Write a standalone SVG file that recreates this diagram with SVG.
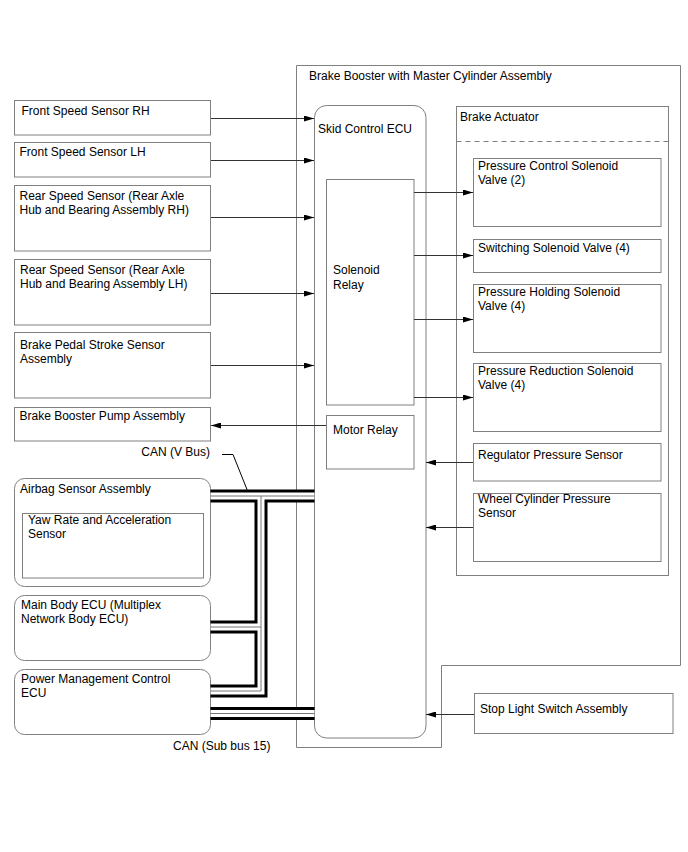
<svg xmlns="http://www.w3.org/2000/svg" width="688" height="852" viewBox="0 0 688 852">
<defs>
<marker id="ah" viewBox="0 0 10 6" refX="10" refY="3" markerWidth="10" markerHeight="6" markerUnits="userSpaceOnUse" orient="auto">
<path d="M0,0 L10,3 L0,6 Z" fill="#000"/>
</marker>
</defs>
<style>
text{font-family:"Liberation Sans",Arial,sans-serif;font-size:12px;fill:#000}
.box{fill:#fff;stroke:#808080;stroke-width:1}
.frame{fill:none;stroke:#808080;stroke-width:1}
.arr{fill:none;stroke:#333;stroke-width:1;marker-end:url(#ah)}
.lead{fill:none;stroke:#000;stroke-width:1}
.b1{fill:none;stroke:#000;stroke-width:13;stroke-linejoin:miter}
.b2{fill:none;stroke:#fff;stroke-width:7;stroke-linejoin:miter}
.b3{fill:none;stroke:#777;stroke-width:1;stroke-linejoin:miter}
</style>
<rect width="688" height="852" fill="#fff"/>

<g id="brake-booster">
<path class="frame" d="M296.5,65.5 H680.5 V665.5 H441.5 V747.5 H296.5 Z"/>
<text x="309" y="80">Brake Booster with Master Cylinder Assembly</text>
</g>

<g id="skid-control-ecu">
<rect class="box" x="314.5" y="105.5" width="111.5" height="632.5" rx="12"/>
<text x="318" y="132.5">Skid Control ECU</text>
</g>
<g id="solenoid-relay">
<rect class="box" x="326.5" y="179.5" width="87.5" height="225.5"/>
<text x="333" y="274">Solenoid</text>
<text x="333" y="289">Relay</text>
</g>
<g id="motor-relay">
<rect class="box" x="326.5" y="415.5" width="87.5" height="53.5"/>
<text x="333" y="434">Motor Relay</text>
</g>

<g id="brake-actuator">
<rect class="box" x="456.5" y="106.5" width="212" height="469"/>
<line x1="456.5" y1="141.5" x2="668.5" y2="141.5" stroke="#808080" stroke-width="1" stroke-dasharray="5,4"/>
<text x="460" y="120.5">Brake Actuator</text>
</g>
<g id="pressure-control">
<rect class="box" x="473.5" y="158.5" width="187.5" height="68"/>
<text x="478" y="169.5">Pressure Control Solenoid</text>
<text x="478" y="183.5">Valve (2)</text>
</g>
<g id="switching">
<rect class="box" x="473.5" y="239.5" width="187.5" height="33"/>
<text x="478" y="251.5">Switching Solenoid Valve (4)</text>
</g>
<g id="pressure-holding">
<rect class="box" x="473.5" y="284.5" width="187.5" height="68"/>
<text x="478" y="296">Pressure Holding Solenoid</text>
<text x="478" y="310">Valve (4)</text>
</g>
<g id="pressure-reduction">
<rect class="box" x="473.5" y="363.5" width="187.5" height="68"/>
<text x="478" y="375">Pressure Reduction Solenoid</text>
<text x="478" y="389">Valve (4)</text>
</g>
<g id="regulator-pressure">
<rect class="box" x="473.5" y="443.5" width="187.5" height="37.5"/>
<text x="478" y="459">Regulator Pressure Sensor</text>
</g>
<g id="wheel-cylinder-pressure">
<rect class="box" x="473.5" y="493.5" width="187.5" height="68"/>
<text x="478" y="503">Wheel Cylinder Pressure</text>
<text x="478" y="517">Sensor</text>
</g>

<g id="stop-light-switch">
<rect class="box" x="474.5" y="693.5" width="198.5" height="40"/>
<text x="480" y="713">Stop Light Switch Assembly</text>
</g>

<g id="front-speed-rh">
<rect class="box" x="14.5" y="100.5" width="196" height="34.5"/>
<text x="21.5" y="115">Front Speed Sensor RH</text>
</g>
<g id="front-speed-lh">
<rect class="box" x="14.5" y="142.5" width="196" height="34.5"/>
<text x="19.5" y="155.5">Front Speed Sensor LH</text>
</g>
<g id="rear-speed-rh">
<rect class="box" x="14.5" y="185.5" width="196" height="65.5"/>
<text x="19.5" y="199.5">Rear Speed Sensor (Rear Axle</text>
<text x="19.5" y="213.5">Hub and Bearing Assembly RH)</text>
</g>
<g id="rear-speed-lh">
<rect class="box" x="14.5" y="259.5" width="196" height="65.5"/>
<text x="20" y="273.5">Rear Speed Sensor (Rear Axle</text>
<text x="20" y="287.5">Hub and Bearing Assembly LH)</text>
</g>
<g id="brake-pedal-stroke">
<rect class="box" x="14.5" y="332.5" width="196" height="65.5"/>
<text x="20" y="348.5">Brake Pedal Stroke Sensor</text>
<text x="20" y="362.5">Assembly</text>
</g>
<g id="brake-booster-pump">
<rect class="box" x="14.5" y="407.5" width="196" height="33.5"/>
<text x="19.5" y="420">Brake Booster Pump Assembly</text>
</g>
<g id="airbag-sensor">
<rect class="box" x="14.5" y="478.5" width="196" height="108" rx="10"/>
<text x="20" y="493">Airbag Sensor Assembly</text>
</g>
<g id="yaw-rate-sensor">
<rect class="box" x="22.5" y="513.5" width="181" height="64.5"/>
<text x="28" y="523.5">Yaw Rate and Acceleration</text>
<text x="28" y="537.5">Sensor</text>
</g>
<g id="main-body-ecu">
<rect class="box" x="14.5" y="595.5" width="196" height="65" rx="10"/>
<text x="21" y="608.5">Main Body ECU (Multiplex</text>
<text x="21" y="622.5">Network Body ECU)</text>
</g>
<g id="power-management-ecu">
<rect class="box" x="14.5" y="669.5" width="196" height="65" rx="10"/>
<text x="21" y="682.5">Power Management Control</text>
<text x="21" y="696.5">ECU</text>
</g>

<g id="connectors">
<path class="arr" d="M211,118.5 H314"/>
<path class="arr" d="M211,160.5 H314"/>
<path class="arr" d="M211,217.5 H314"/>
<path class="arr" d="M211,293.5 H314"/>
<path class="arr" d="M211,365.5 H314"/>
<path class="arr" d="M326,425.5 H211"/>
<path class="arr" d="M414,192.5 H473"/>
<path class="arr" d="M414,255.5 H473"/>
<path class="arr" d="M414,319.5 H473"/>
<path class="arr" d="M414,397.5 H473"/>
<path class="arr" d="M473,462.5 H426"/>
<path class="arr" d="M473,527.5 H426"/>
<path class="arr" d="M474,714.5 H426"/>
<g id="can-v-bus">
<path class="b1" d="M210.5,496 H314.5 M261,496 V691 H210.5 M261,627 H210.5"/>
<path class="b2" d="M210.5,496 H314.5 M261,496 V691 H210.5 M261,627 H210.5"/>
<path class="b3" d="M210.5,496 H314.5 M261,496 V691 H210.5 M261,627 H210.5"/>
</g>
<g id="can-sub-bus">
<path class="b1" d="M210.5,713.5 H314.5"/>
<path class="b2" d="M210.5,713.5 H314.5"/>
<path class="b3" d="M210.5,713.5 H314.5"/>
</g>
<path class="lead" d="M222,454.5 H233 L248,492"/>
</g>
<text x="210" y="455.5" text-anchor="end">CAN (V Bus)</text>
<text x="173" y="749.5">CAN (Sub bus 15)</text>
</svg>
